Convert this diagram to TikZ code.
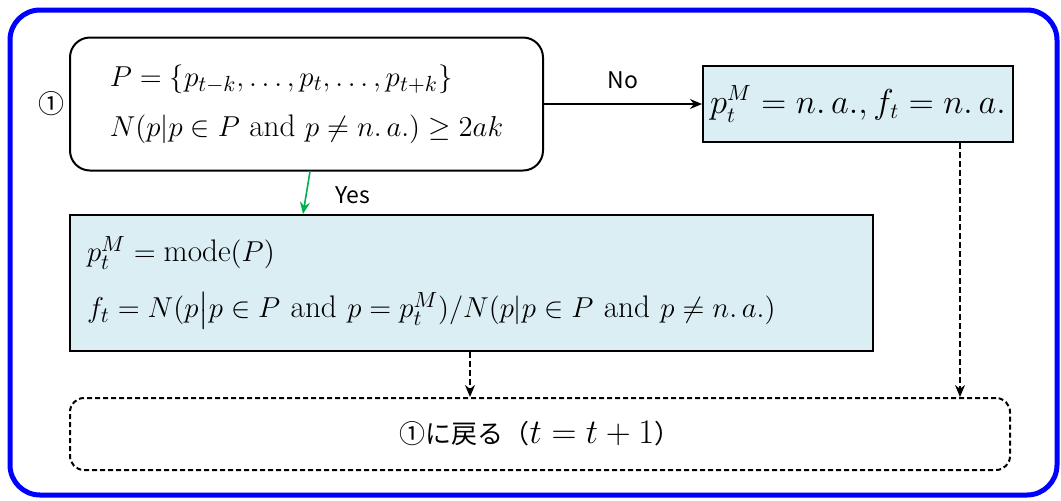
\documentclass[tikz,border=0pt]{standalone}
\usepackage{amsmath,amssymb}
\usepackage{fontspec}
\newfontfamily\jp{Noto Sans CJK JP}
\usetikzlibrary{arrows.meta}
\definecolor{boxfill}{RGB}{219,238,244}
\definecolor{outerblue}{RGB}{0,0,255}
\definecolor{yesgreen}{RGB}{0,176,80}
\begin{document}
\begin{tikzpicture}[x=0.5pt,y=-0.5pt,
  mathfont/.style={font=\fontsize{15.6}{19}\selectfont},
  lbl/.style={font=\jp\fontsize{11.5}{13}\selectfont, inner sep=0pt},
  condbox/.style={draw, line width=1pt, rounded corners=10pt, align=left, mathfont, inner sep=0pt},
  resbox/.style={draw, line width=1pt, fill=boxfill, mathfont, inner sep=0pt},
  endbox/.style={draw, line width=1pt, rounded corners=7pt, dash pattern=on 2.5pt off 1.5pt, inner sep=0pt},
  arr/.style={-{Stealth[length=6pt,width=5pt]}, line width=0.8pt},
  darr/.style={-{Stealth[length=6pt,width=5pt]}, line width=0.8pt, dash pattern=on 3pt off 1.5pt}
]
\useasboundingbox (0,0) rectangle (1061,500);
\draw[outerblue, line width=2.5pt, rounded corners=15pt] (10,10) rectangle (1057,495);

\node[condbox, minimum width=236.5pt, minimum height=66.5pt] (c1) at (306.5,104)
  {$P=\{p_{t-k},\dots,p_t,\dots,p_{t+k}\}$\\[6pt]
   $N(p|p\in P\text{ and }p\neq n.\,a.)\geq 2ak$};
\node[lbl, font=\jp\fontsize{13}{15}\selectfont] (n1) at (52,104) {①};

\node[resbox, minimum width=155pt, minimum height=38pt, font=\fontsize{16}{18}\selectfont] (c2) at (858,104)
  {$p_t^M=n.\,a.,f_t=n.\,a.$};

\node[resbox, minimum width=401.5pt, minimum height=68pt, inner xsep=8.5pt, text width=384.5pt, align=left] (c3) at (471.5,283)
  {$p_t^M=\mathrm{mode}(P)$\\[9pt]
   $f_t=N(p\big|p\in P\text{ and }p=p_t^M)/N(p|p\in P\text{ and }p\neq n.\,a.)$};

\node[endbox, minimum width=470pt, minimum height=36pt, font=\fontsize{16}{18}\selectfont] (c4) at (540,434)
  {{\jp\fontsize{13}{15}\selectfont ①に戻る（}$t=t+1${\jp\fontsize{13}{15}\selectfont ）}};

\coordinate (ya) at (310,0);
\coordinate (yb) at (303,0);
\coordinate (d1) at (470,0);
\coordinate (d2) at (960,0);

\draw[arr] (c1.east) -- node[lbl, above=7pt] (no) {No} (c1.east -| c2.west);
\draw[arr, yesgreen] (c1.south -| ya) -- (c3.north -| yb);
\node[lbl] (yes) at (353,195) {Yes};
\draw[darr] (c3.south -| d1) -- (c4.north -| d1);
\draw[darr] (c2.south -| d2) -- (c4.north -| d2);
\end{tikzpicture}
\end{document}
